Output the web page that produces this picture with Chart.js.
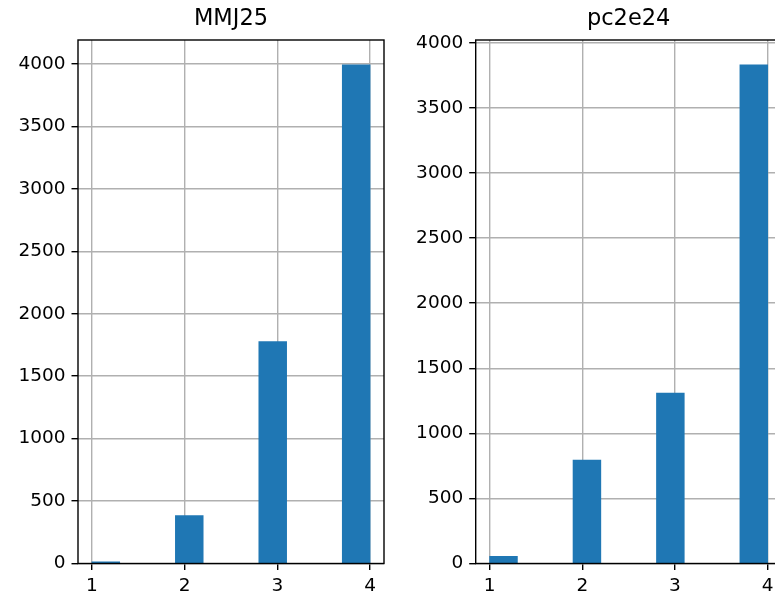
<!DOCTYPE html>
<html>
<head>
<meta charset="utf-8">
<script src="https://cdn.jsdelivr.net/npm/chart.js@4.4.1/dist/chart.umd.min.js"></script>
<style>
	html, body { margin: 0; padding: 0; background: #fff; width: 775px; height: 595px; overflow: hidden; position: relative; }
	.panel { position: absolute; top: 0; height: 595px; }
</style>
</head>
<body>
<div class="panel" style="left:0;width:390px"><canvas id="mmj25Chart"></canvas></div>
<div class="panel" style="left:390px;width:400px"><canvas id="pc2e24Chart"></canvas></div>
<script>
// histogram bins: 10 bins of width 0.3 between 1 and 4
const binCenters = [1.15, 1.45, 1.75, 2.05, 2.35, 2.65, 2.95, 3.25, 3.55, 3.85];
const mmj25Counts = [14, 0, 0, 383, 0, 0, 1777, 0, 0, 3992];
const pc2e24Counts = [56, 0, 0, 795, 0, 0, 1310, 0, 0, 3830];
const xTicks = [1, 2, 3, 4];
const yTicks = [0, 500, 1000, 1500, 2000, 2500, 3000, 3500, 4000];

const barColor = "#1f77b4";
const gridColor = "#b0b0b0";
const tickFont = { family: "'DejaVu Sans'", size: 18.5 };

// matplotlib draws the full box around the axes
const framePlugin = {
	id: "frame",
	afterDraw(chart) {
		const a = chart.chartArea;
		const ctx = chart.ctx;
		ctx.save();
		ctx.strokeStyle = "#000";
		ctx.lineWidth = 1.4;
		ctx.strokeRect(a.left, a.top, a.right - a.left, a.bottom - a.top);
		ctx.restore();
	}
};

function makeHist(canvasId, title, counts, yAxisWidth, padRight) {
	const ctx = document.getElementById(canvasId);
	return new Chart(ctx, {
		type: "bar",
		data: {
			datasets: [{
				data: binCenters.map((x, i) => ({ x: x, y: counts[i] })),
				backgroundColor: barColor,
				borderWidth: 0,
				barPercentage: 1,
				categoryPercentage: 1
			}]
		},
		options: {
			responsive: true,
			maintainAspectRatio: false,
			animation: false,
			layout: { padding: { left: 0, right: padRight, top: 0, bottom: 0 } },
			plugins: {
				legend: { display: false },
				tooltip: { enabled: false },
				title: {
					display: true,
					text: title,
					fullSize: false,
					color: "#000",
					font: { family: "'DejaVu Sans'", size: 22.5, weight: "normal", lineHeight: 1.2 },
					padding: { top: 6, bottom: 7 }
				}
			},
			scales: {
				x: {
					type: "linear",
					min: 0.85,
					max: 4.15,
					offset: false,
					z: 1,
					afterBuildTicks: (s) => { s.ticks = xTicks.map(v => ({ value: v })); },
					afterFit: (s) => { s.height = 31.5; },
					grid: { offset: false, color: gridColor, lineWidth: 1.4, tickColor: "#000", tickLength: 6.5, tickWidth: 1.4 },
					border: { display: false },
					ticks: { color: "#000", font: tickFont, padding: 5, maxRotation: 0, callback: (v) => String(v) }
				},
				y: {
					min: 0,
					max: Math.max(...counts) * 1.05,
					z: 1,
					afterBuildTicks: (s) => { s.ticks = yTicks.map(v => ({ value: v })); },
					afterFit: (s) => { s.width = yAxisWidth; },
					grid: { color: gridColor, lineWidth: 1.4, tickColor: "#000", tickLength: 6.5, tickWidth: 1.4 },
					border: { display: false },
					ticks: { color: "#000", font: tickFont, padding: 6, callback: (v) => String(v) }
				}
			}
		},
		plugins: [framePlugin]
	});
}

makeHist("mmj25Chart", "MMJ25", mmj25Counts, 78, 6);
makeHist("pc2e24Chart", "pc2e24", pc2e24Counts, 85.7, 8.4);
</script>
</body>
</html>
